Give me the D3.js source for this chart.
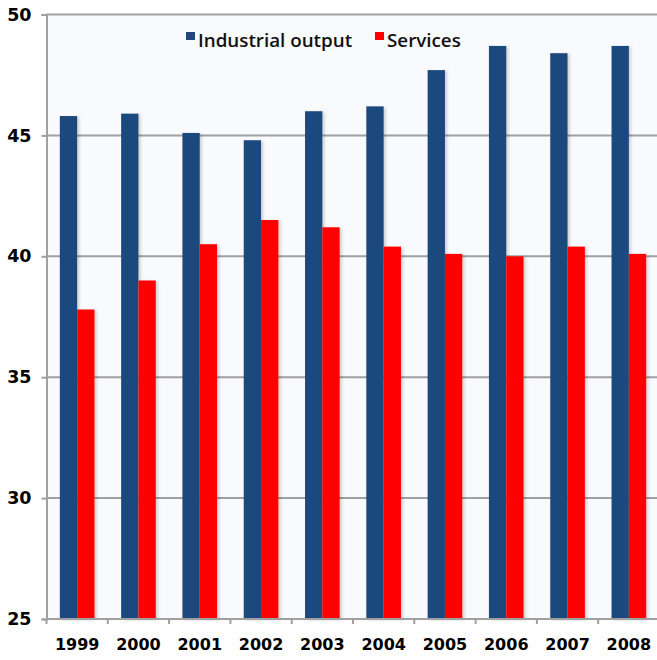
<!DOCTYPE html>
<html>
<head>
<meta charset="utf-8">
<script src="https://cdn.jsdelivr.net/npm/d3@7"></script>
<style>
html,body{margin:0;padding:0;background:#fff;}
svg{display:block;}
.lbl{font-family:"DejaVu Sans",Verdana,sans-serif;font-weight:bold;fill:#000;}
.leg{font-family:"Open Sans","Noto Sans",sans-serif;font-weight:600;fill:#111;}
</style>
</head>
<body>
<svg id="chart" width="657" height="660"></svg>
<script>
const years = ["1999","2000","2001","2002","2003","2004","2005","2006","2007","2008"];
const seriesNames = ["Industrial output","Services"];
const industrial = [45.8,45.9,45.1,44.8,46.0,46.2,47.7,48.7,48.4,48.7];
const services = [37.8,39.0,40.5,41.5,41.2,40.4,40.1,40.0,40.4,40.1];
const yTicks = [25,30,35,40,45,50];
const colors = ["#1f497d","#ff0000"];

(function(){
const svg = d3.select("#chart");
const pL = 46.5, pR = 659.5, pT = 14.5, pB = 619;

const x0 = d3.scaleBand().domain(years).range([pL, pR]).paddingInner(0).paddingOuter(0);
const x1 = d3.scaleBand().domain(seriesNames).range([0, x0.bandwidth()]).paddingInner(0).paddingOuter(0.77);
const y = d3.scaleLinear().domain([25, 50]).range([pB, pT]);

const defs = svg.append("defs");
const f = defs.append("filter").attr("id","sh").attr("x","-30%").attr("y","-5%").attr("width","180%").attr("height","115%");
f.append("feDropShadow").attr("dx",2).attr("dy",1).attr("stdDeviation",1.6).attr("flood-color","#000").attr("flood-opacity",0.18);

// plot background
svg.append("rect").attr("x", pL).attr("y", pT).attr("width", 657-pL).attr("height", pB-pT).attr("fill", "#f9fafd");

// gridlines
svg.append("g").selectAll("line").data(yTicks.filter(d => d > 25)).join("line")
  .attr("x1", pL).attr("x2", 657).attr("y1", d => y(d)).attr("y2", d => y(d))
  .attr("stroke", "#a0a0a0").attr("stroke-width", 2);

// bars
const data = years.map((yr, i) => ({year: yr, vals: [industrial[i], services[i]]}));
const g = svg.append("g");
data.forEach(d => {
  d.vals.forEach((v, j) => {
    g.append("rect")
      .attr("x", x0(d.year) + x1(seriesNames[j]))
      .attr("y", y(v))
      .attr("width", x1.bandwidth())
      .attr("height", y(25) - y(v))
      .attr("fill", colors[j])
      .attr("filter", "url(#sh)");
  });
});

// y axis
const yAxis = d3.axisLeft(y).tickValues(yTicks).tickSize(5).tickPadding(10).tickFormat(d3.format("d"));
const ya = svg.append("g").attr("transform", `translate(${pL},0)`).call(yAxis);
ya.attr("font-family", null).attr("font-size", null);
ya.select(".domain").attr("stroke", "#a0a0a0").attr("stroke-width", 2);
ya.selectAll(".tick line").attr("stroke", "#a0a0a0").attr("stroke-width", 2);
ya.selectAll("text").attr("class", "lbl").attr("fill", null)
  .style("font-size", "17.5px").style("font-weight", "bold").style("font-family", "'DejaVu Sans', Verdana, sans-serif");

// x axis baseline and boundary ticks
svg.append("line").attr("x1", pL).attr("x2", 657).attr("y1", pB).attr("y2", pB)
  .attr("stroke", "#a0a0a0").attr("stroke-width", 2);
const bounds = years.map(d => x0(d)).concat([x0(years[years.length-1]) + x0.bandwidth()]);
svg.append("g").selectAll("line").data(bounds).join("line")
  .attr("x1", d => d).attr("x2", d => d).attr("y1", pB).attr("y2", pB + 5)
  .attr("stroke", "#a0a0a0").attr("stroke-width", 2);

const xAxis = d3.axisBottom(x0).tickSize(0).tickPadding(20);
const xa = svg.append("g").attr("transform", `translate(0,${pB})`).call(xAxis);
xa.attr("font-family", null).attr("font-size", null);
xa.select(".domain").remove();
xa.selectAll("text").attr("class", "lbl").attr("fill", null)
  .style("font-size", "16px").style("font-weight", "bold").style("font-family", "'DejaVu Sans', Verdana, sans-serif");

// legend
const legend = svg.append("g");
const legX = [186, 375];
seriesNames.forEach((s, i) => {
  legend.append("rect").attr("x", legX[i]).attr("y", 32).attr("width", 9).attr("height", 8).attr("fill", colors[i]);
  legend.append("text").attr("class", "leg").attr("x", legX[i] + 12).attr("y", 46.5)
    .style("font-size", "18.8px").text(s);
});
})();
</script>
</body>
</html>
